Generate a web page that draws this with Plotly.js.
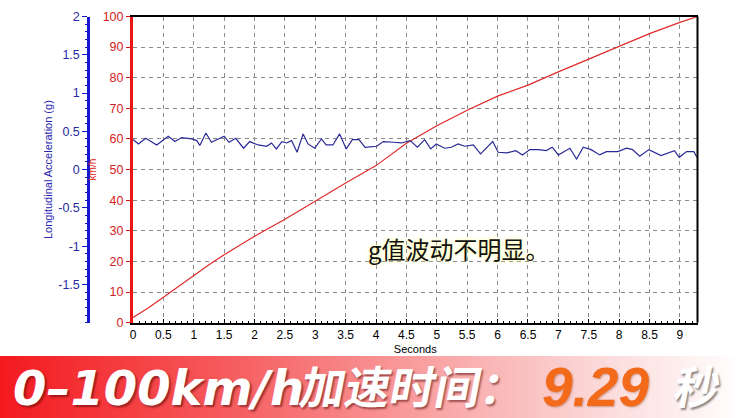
<!DOCTYPE html>
<html>
<head>
<meta charset="utf-8">
<script src="https://cdn.plot.ly/plotly-3.0.1.min.js"></script>
<style>
html,body{margin:0;padding:0;background:#fff;}
#chart{width:744px;height:418px;}
</style>
</head>
<body>
<div id="chart"></div>
<script>
// ---- data ----
const speedTime = [0, 0.25, 0.5, 0.75, 1, 1.25, 1.5, 1.75, 2, 2.5, 3, 3.5, 4, 4.5, 5, 5.5, 6, 6.5, 7, 7.5, 8, 8.5, 9, 9.29];
const speedKmh  = [1.7, 4.8, 8.3, 11.9, 15.4, 18.9, 22.2, 25.3, 28.2, 33.8, 39.8, 45.6, 51.3, 58.6, 64.3, 69.4, 74.0, 77.6, 81.9, 86.1, 90.2, 94.4, 98.1, 100];

const accelTime = [0, 0.09, 0.21, 0.39, 0.58, 0.69, 0.80, 0.97, 1.05, 1.10, 1.20, 1.29, 1.50, 1.58, 1.69, 1.82, 1.92, 2.06, 2.20, 2.28,
  2.36, 2.45, 2.53, 2.61, 2.70, 2.80, 2.88, 2.99, 3.10, 3.18, 3.29, 3.40, 3.51, 3.61, 3.72, 3.82, 4.01, 4.12, 4.28, 4.42,
  4.56, 4.68, 4.80, 4.90, 4.99, 5.13, 5.24, 5.35, 5.46, 5.60, 5.72, 5.82, 5.92, 6.01, 6.15, 6.30, 6.41, 6.53, 6.67, 6.80,
  6.90, 7.00, 7.19, 7.30, 7.41, 7.54, 7.68, 7.79, 7.98, 8.12, 8.22, 8.34, 8.49, 8.69, 8.91, 8.99, 9.11, 9.23, 9.28];
const accelG = [0.392, 0.335, 0.409, 0.322, 0.436, 0.366, 0.418, 0.401, 0.379, 0.314, 0.479, 0.357, 0.436, 0.357, 0.409, 0.279, 0.366, 0.322, 0.305, 0.348,
  0.270, 0.366, 0.348, 0.379, 0.226, 0.466, 0.335, 0.279, 0.401, 0.322, 0.322, 0.466, 0.270, 0.392, 0.392, 0.292, 0.305, 0.366, 0.357, 0.348,
  0.379, 0.292, 0.392, 0.270, 0.335, 0.279, 0.292, 0.335, 0.305, 0.322, 0.205, 0.292, 0.366, 0.226, 0.218, 0.248, 0.192, 0.261, 0.261, 0.248,
  0.292, 0.192, 0.279, 0.139, 0.292, 0.261, 0.192, 0.235, 0.235, 0.279, 0.261, 0.174, 0.261, 0.183, 0.248, 0.161, 0.235, 0.235, 0.161];

const secondsTickVals = [0, 0.5, 1, 1.5, 2, 2.5, 3, 3.5, 4, 4.5, 5, 5.5, 6, 6.5, 7, 7.5, 8, 8.5, 9];
const secondsTickText = ["0", "0.5", "1", "1.5", "2", "2.5", "3", "3.5", "4", "4.5", "5", "5.5", "6", "6.5", "7", "7.5", "8", "8.5", "9"];
const speedTickVals = [0, 10, 20, 30, 40, 50, 60, 70, 80, 90, 100];
const accelTickVals = [-1.5, -1, -0.5, 0, 0.5, 1, 1.5, 2];
const accelTickText = ["-1.5", "-1", "-0.5", "0", "0.5", "1", "1.5", "2"];

const noteText = "g值波动不明显。";
const bannerLatin = "0–100km/h";
const bannerCJK = "加速时间：";
const bannerTime = "9.29";
const bannerUnit = "秒";

// ---- banner gradient ----
const bannerSvg = "<svg xmlns='http://www.w3.org/2000/svg' width='744' height='62'><defs>" +
  "<linearGradient id='g' x1='0' x2='1' y1='0' y2='0'>" +
  "<stop offset='0' stop-color='#f31a1e'/><stop offset='0.3' stop-color='#f65a5c'/>" +
  "<stop offset='0.6' stop-color='#f9a8a8'/><stop offset='0.82' stop-color='#fcdcdc'/>" +
  "<stop offset='1' stop-color='#ffffff'/></linearGradient></defs>" +
  "<rect width='744' height='62' fill='url(#g)'/></svg>";
const bannerSrc = "data:image/svg+xml;charset=utf-8," + encodeURIComponent(bannerSvg);

const W = 744, H = 418;
const gridDash = "4px,4px";
const gridColor = "#8a8a8a";

const traces = [
  {
    x: speedTime, y: speedKmh, type: 'scatter', mode: 'lines', yaxis: 'y',
    line: {color: '#e02a2a', width: 1.2}, hoverinfo: 'skip'
  },
  {
    x: accelTime, y: accelG, type: 'scatter', mode: 'lines', yaxis: 'y2',
    line: {color: '#2a2a96', width: 1.2}, hoverinfo: 'skip'
  }
];

const banFont = {family: "'Noto Sans CJK SC', sans-serif", size: 45, weight: 700, color: '#ffffff',
  shadow: '2px 2px 2px rgba(90,10,10,0.55)'};
const bannerY = 1 - 388 / H;
const bannerCJKY = 1 - 384.5 / H;

const layout = {
  width: W, height: H,
  margin: {l: 0, r: 0, t: 0, b: 0},
  paper_bgcolor: '#ffffff', plot_bgcolor: '#ffffff',
  showlegend: false,
  font: {family: "'Liberation Sans', Arial, sans-serif", size: 12, color: '#000'},
  xaxis: {
    domain: [133 / W, 697.5 / W], range: [0, 9.29],
    tickmode: 'array', tickvals: secondsTickVals, ticktext: secondsTickText,
    ticks: 'inside', ticklen: 4, tickcolor: '#000', tickwidth: 1,
    showline: true, linecolor: '#000', linewidth: 2, mirror: true,
    showgrid: true, gridcolor: gridColor, griddash: gridDash, gridwidth: 1,
    zeroline: false,
    minor: {dtick: 0.1, tick0: 0, ticks: 'inside', ticklen: 2, tickcolor: '#000', showgrid: false},
    tickfont: {size: 12, color: '#000'},
    title: {text: 'Seconds', font: {size: 11, color: '#000'}, standoff: 4},
    automargin: false, fixedrange: true
  },
  yaxis: {
    domain: [1 - 322.7 / H, 1 - 16.5 / H], range: [0, 100],
    tickmode: 'array', tickvals: speedTickVals,
    ticks: 'outside', ticklen: 4, tickcolor: '#e01010',
    showline: true, linecolor: '#ee1414', linewidth: 3,
    showgrid: true, gridcolor: gridColor, griddash: gridDash, gridwidth: 1,
    zeroline: false,
    tickfont: {size: 12.5, color: '#d42222'},
    title: {text: 'km/h', font: {size: 10, color: '#dd2020'}, standoff: 5},
    automargin: false, fixedrange: true
  },
  yaxis2: {
    overlaying: 'y', anchor: 'free', position: 88.3 / W, side: 'left',
    range: [-2, 2],
    tickmode: 'array', tickvals: accelTickVals, ticktext: accelTickText,
    ticks: 'outside', ticklen: 5, tickcolor: '#1616c8',
    showline: true, linecolor: '#1818d0', linewidth: 3,
    showgrid: false, zeroline: false,
    minor: {dtick: 0.1, tick0: 0, ticks: 'outside', ticklen: 2, tickcolor: '#1616c8', showgrid: false},
    tickfont: {size: 12.5, color: '#2a2aa0'},
    title: {text: 'Longitudinal Acceleration (g)', font: {size: 11, color: '#2626b0'}, standoff: 2},
    automargin: false, fixedrange: true
  },
  shapes: [
    {type: 'line', xref: 'x domain', yref: 'y domain', x0: 1, x1: 1, y0: 0, y1: 1,
     line: {color: '#000', width: 2}}
  ],
  images: [
    {source: bannerSrc, xref: 'paper', yref: 'paper', x: 0, y: 1 - 356 / H,
     sizex: 1, sizey: 62 / H, xanchor: 'left', yanchor: 'top', sizing: 'stretch', layer: 'below'}
  ],
  annotations: [
    {text: noteText, xref: 'paper', yref: 'paper', x: 459 / W, y: 1 - 248 / H,
     xanchor: 'center', yanchor: 'middle', showarrow: false,
     font: {family: "'Noto Sans CJK SC', sans-serif", size: 24, color: '#111', shadow: '0 0 4px #ffff90'}},
    {text: bannerLatin, xref: 'paper', yref: 'paper', x: 158 / W, y: bannerY,
     xanchor: 'center', yanchor: 'middle', showarrow: false,
     font: {family: "'DejaVu Sans', sans-serif", size: 48, weight: 700, style: 'italic', color: '#ffffff',
            shadow: '2px 2px 2px rgba(90,10,10,0.55)'}},
    {text: bannerCJK, xref: 'paper', yref: 'paper', x: 414 / W, y: bannerCJKY,
     xanchor: 'center', yanchor: 'middle', showarrow: false, width: 250, font: banFont},
    {text: bannerTime, xref: 'paper', yref: 'paper', x: 595 / W, y: 1 - 386.5 / H,
     xanchor: 'center', yanchor: 'middle', showarrow: false,
     font: {family: "'Liberation Sans', Arial, sans-serif", size: 55, weight: 700, style: 'italic', color: '#f26a1a',
            shadow: '1px 1px 2px rgba(120,40,0,0.35)'}},
    {text: bannerUnit, xref: 'paper', yref: 'paper', x: 698 / W, y: bannerCJKY,
     xanchor: 'center', yanchor: 'middle', showarrow: false, width: 64,
     font: Object.assign({}, banFont, {shadow: '2px 2px 2px rgba(60,60,60,0.6)'})}
  ]
};

const gd = document.getElementById('chart');

function slantCJK() {
  // slant the CJK banner words like the reference's italic display type
  try {
    gd.querySelectorAll('.annotation-text').forEach(function (t) {
      const s = t.textContent;
      if (s === bannerCJK || s === bannerUnit) {
        const b = t.getBBox();
        const cx = b.x + b.width / 2, cy = b.y + b.height / 2;
        const prev = t.getAttribute('transform') || '';
        t.setAttribute('transform', prev + ' translate(' + cx + ',' + cy + ') skewX(-11) translate(' + (-cx) + ',' + (-cy) + ')');
      }
    });
  } catch (e) {}
}

function draw() {
  Plotly.newPlot(gd, traces, layout, {displayModeBar: false, staticPlot: true}).then(slantCJK);
}

let fontWait;
try {
  fontWait = Promise.all([
    document.fonts.load("700 45px 'Noto Sans CJK SC'", bannerCJK + bannerUnit),
    document.fonts.load("400 24px 'Noto Sans CJK SC'", noteText),
    document.fonts.load("italic 700 48px 'DejaVu Sans'", bannerLatin),
    document.fonts.load("italic 700 55px 'Liberation Sans'", bannerTime),
    document.fonts.load("400 12px 'Liberation Sans'", "0123456789")
  ]);
} catch (e) { fontWait = Promise.resolve(); }
Promise.race([fontWait, new Promise(function (r) { setTimeout(r, 1500); })]).then(draw, draw);
</script>
</body>
</html>
